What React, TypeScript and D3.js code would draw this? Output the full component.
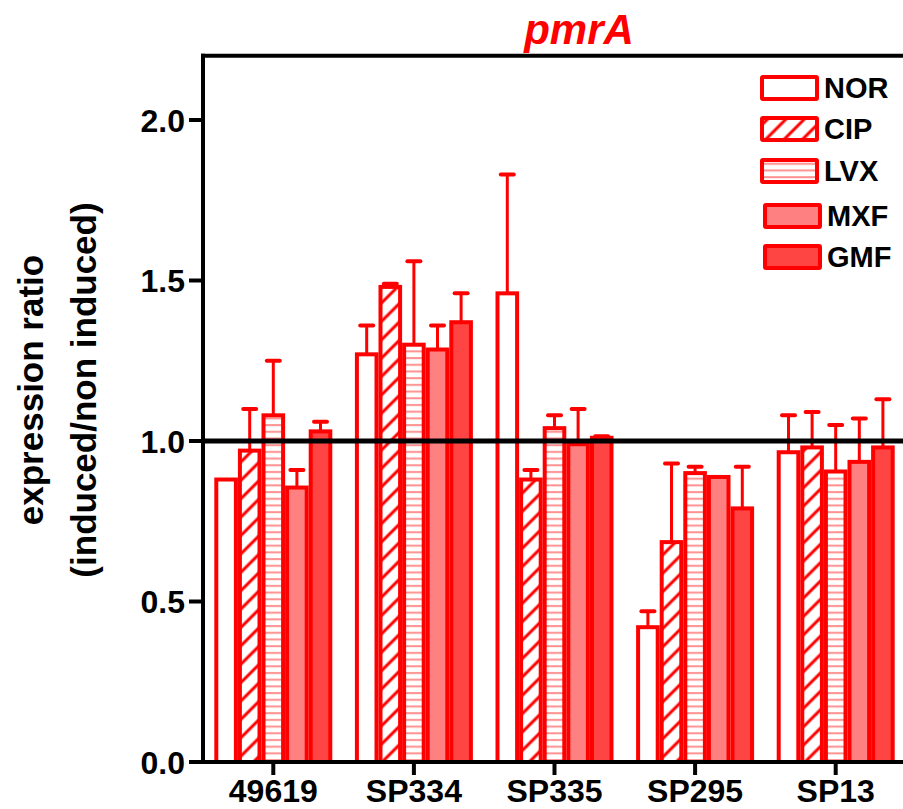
import React from "react";
import * as d3 from "d3";

const categories = ["49619", "SP334", "SP335", "SP295", "SP13"];
const seriesNames = ["NOR", "CIP", "LVX", "MXF", "GMF"];
// values[series][category]
const values = [
  [0.88, 1.27, 1.46, 0.42, 0.965],
  [0.97, 1.48, 0.88, 0.685, 0.98],
  [1.08, 1.30, 1.04, 0.90, 0.905],
  [0.855, 1.285, 0.99, 0.888, 0.935],
  [1.03, 1.37, 1.01, 0.79, 0.98],
];
const errors = [
  [0, 0.09, 0.37, 0.05, 0.115],
  [0.13, 0.01, 0.03, 0.245, 0.11],
  [0.17, 0.26, 0.04, 0.02, 0.145],
  [0.055, 0.075, 0.11, 0, 0.135],
  [0.03, 0.09, 0.005, 0.13, 0.15],
];
const yTicks = [0, 0.5, 1.0, 1.5, 2.0];

const RED = "#ff0000";
const fills = ["#ffffff", "url(#hatchDiag)", "url(#hatchHoriz)", "#ff8080", "#ff4444"];
const FONT = "'Liberation Sans', Arial, Helvetica, sans-serif";

export default function App() {
  const left = 203;
  const right = 906;
  const bottom = 762;
  const y = d3.scaleLinear().domain([0, 2.2]).range([bottom, 55.8]);
  const x0 = d3.scaleBand<string>().domain(categories).range([left, right]).padding(0);
  const groupW = 118;
  const x1 = d3.scaleBand<string>().domain(seriesNames).range([0, groupW]).padding(0);

  const legendRows = [88, 129, 171, 216, 257];
  const legendX = [762, 762, 762, 765, 765];

  return (
    <svg width={903} height={809} style={{ position: "absolute", left: 0, top: 0, background: "#fff" }}>
      <defs>
        <pattern id="hatchDiag" patternUnits="userSpaceOnUse" width={13} height={13} patternTransform="rotate(45)">
          <rect width={13} height={13} fill="#fff" />
          <line x1={3} y1={0} x2={3} y2={13} stroke={RED} strokeWidth={3} />
        </pattern>
        <pattern id="hatchHoriz" patternUnits="userSpaceOnUse" width={10} height={6.7}>
          <rect width={10} height={6.7} fill="#fff" />
          <line x1={0} y1={3} x2={10} y2={3} stroke="#ff9090" strokeWidth={2} />
        </pattern>
      </defs>

      {/* title */}
      <text x={579} y={44} textAnchor="middle" fontFamily={FONT} fontWeight="bold" fontStyle="italic" fontSize={42} fill={RED}>
        pmrA
      </text>

      {/* y axis label */}
      <g transform="translate(43,390) rotate(-90)">
        <text x={0} y={0} textAnchor="middle" fontFamily={FONT} fontWeight="bold" fontSize={35} fill="#000">
          expression ratio
        </text>
      </g>
      <g transform="translate(96,390) rotate(-90)">
        <text x={0} y={0} textAnchor="middle" fontFamily={FONT} fontWeight="bold" fontSize={35} fill="#000">
          (induced/non induced)
        </text>
      </g>

      {/* bars */}
      {categories.map((c, ci) => {
        const gx = (x0(c) as number) + x0.bandwidth() / 2 - groupW / 2;
        return (
          <g key={c}>
            {seriesNames.map((s, si) => {
              const v = values[si][ci];
              const e = errors[si][ci];
              const bx = gx + (x1(s) as number);
              const bw = x1.bandwidth();
              const cx = bx + bw / 2;
              return (
                <g key={s}>
                  {e > 0 && (
                    <g stroke={RED} strokeLinecap="round">
                      <line x1={cx} x2={cx} y1={y(v)} y2={y(v + e)} strokeWidth={3} />
                      <line x1={cx - 6.5} x2={cx + 6.5} y1={y(v + e)} y2={y(v + e)} strokeWidth={4} />
                    </g>
                  )}
                  <rect x={bx + 2} y={y(v)} width={bw - 4} height={bottom - y(v)} fill={fills[si]} stroke={RED} strokeWidth={4} />
                </g>
              );
            })}
          </g>
        );
      })}

      {/* reference line at 1.0 */}
      <line x1={left} x2={903} y1={y(1)} y2={y(1)} stroke="#000" strokeWidth={5} />
      {/* top border */}
      <line x1={left - 2} x2={903} y1={y(2.2)} y2={y(2.2)} stroke="#000" strokeWidth={4} />

      {/* y axis */}
      <line x1={left} x2={left} y1={y(2.2) - 2} y2={bottom + 2} stroke="#000" strokeWidth={4} />
      {yTicks.map((t) => (
        <g key={t}>
          <line x1={left - 14} x2={left} y1={y(t)} y2={y(t)} stroke="#000" strokeWidth={4} />
          <text x={left - 18} y={y(t)} dy="0.36em" textAnchor="end" fontFamily={FONT} fontWeight="bold" fontSize={32} fill="#000">
            {d3.format(".1f")(t)}
          </text>
        </g>
      ))}

      {/* x axis */}
      <line x1={left - 2} x2={903} y1={bottom} y2={bottom} stroke="#000" strokeWidth={4} />
      {categories.map((c) => {
        const cx = (x0(c) as number) + x0.bandwidth() / 2;
        return (
          <g key={c}>
            <line x1={cx} x2={cx} y1={bottom} y2={bottom + 13} stroke="#000" strokeWidth={4} />
            <text x={cx} y={802} textAnchor="middle" fontFamily={FONT} fontWeight="bold" fontSize={32} fill="#000">
              {c}
            </text>
          </g>
        );
      })}

      {/* legend */}
      {seriesNames.map((s, i) => (
        <g key={s}>
          <rect x={legendX[i]} y={legendRows[i] - 11} width={55} height={22} fill={fills[i]} stroke={RED} strokeWidth={4} rx={1} />
          <text x={legendX[i] + 62} y={legendRows[i]} dy="0.36em" fontFamily={FONT} fontWeight="bold" fontSize={29} fill="#000">
            {s}
          </text>
        </g>
      ))}
    </svg>
  );
}
